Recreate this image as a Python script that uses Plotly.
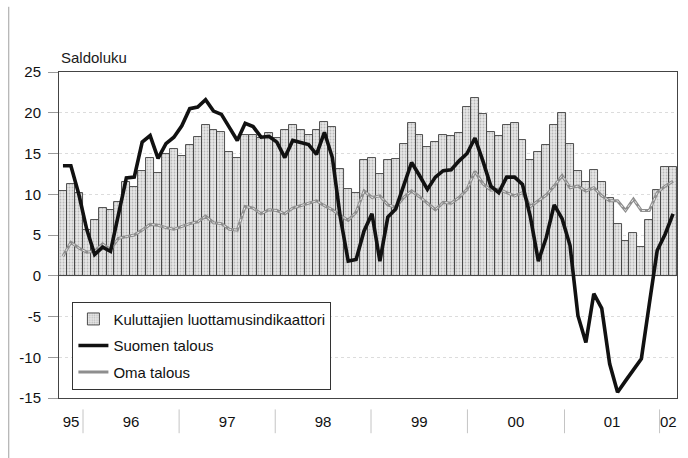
import plotly.graph_objects as go

# ---------------- data (monthly, Oct 1995 - Mar 2002) ----------------
months = [f"{y}-{m:02d}" for y in range(1995, 2003) for m in range(1, 13)]
months = months[months.index("1995-10"):months.index("2002-03") + 1]

cci = [10.4, 11.2, 10.2,
       5.6, 6.9, 8.3, 8.1, 9.0, 11.5, 10.9, 12.8, 14.5, 12.6, 15.0, 15.6,
       14.7, 16.0, 17.0, 18.5, 17.9, 17.7, 15.2, 14.4, 17.3, 17.3, 16.9, 17.5,
       16.9, 17.9, 18.5, 17.9, 17.3, 17.9, 18.9, 18.3, 13.1, 10.7, 10.2, 14.2,
       14.4, 12.5, 14.2, 14.3, 16.2, 18.8, 17.3, 15.8, 16.4, 17.3, 17.1, 17.5,
       20.7, 21.8, 19.9, 17.7, 17.1, 18.5, 18.8, 16.6, 14.2, 15.2, 16.0, 18.5,
       20.0, 16.2, 12.9, 11.5, 13.0, 11.5, 9.5, 6.4, 4.3, 5.2, 3.5, 6.8,
       10.5, 13.4, 13.3]

suomen_talous = [13.5, 13.5, 10.0,
                 5.7, 2.6, 3.5, 3.0, 7.5, 12.0, 12.1, 16.4, 17.2, 14.4, 16.2, 17.0,
                 18.4, 20.5, 20.7, 21.6, 20.2, 19.8, 18.2, 16.6, 18.7, 18.3, 17.0, 17.1,
                 16.4, 14.5, 16.6, 16.4, 16.1, 14.9, 17.6, 14.5, 7.2, 1.8, 2.0, 5.5,
                 7.6, 1.8, 7.2, 8.2, 11.0, 13.9, 12.3, 10.6, 12.1, 12.9, 13.0, 14.1,
                 15.0, 16.9, 14.1, 11.0, 10.2, 12.1, 12.1, 11.2, 7.2, 1.8, 4.7, 8.7,
                 7.0, 3.7, -4.9, -8.2, -2.2, -4.0, -10.8, -14.3, -12.9, -11.6, -10.2, -3.5,
                 3.1, 5.1, 7.6]

oma_talous = [2.4, 4.1, 3.4,
              2.9, 3.0, 3.9, 3.2, 4.6, 4.8, 5.0, 5.6, 6.3, 6.2, 5.9, 5.7,
              6.1, 6.4, 6.6, 7.3, 6.5, 6.4, 5.7, 5.6, 8.5, 8.3, 7.6, 8.1,
              8.0, 7.6, 8.3, 8.6, 8.9, 9.2, 8.6, 8.1, 7.4, 6.8, 7.8, 10.4,
              9.6, 9.8, 8.7, 8.4, 9.6, 10.4, 9.7, 8.9, 8.1, 9.0, 8.9, 9.6,
              10.6, 12.8, 11.3, 10.5, 10.6, 10.2, 9.8, 10.2, 8.5, 9.2, 9.9, 11.0,
              12.3, 10.8, 11.0, 10.4, 10.8, 9.8, 9.2, 9.2, 8.0, 9.4, 8.0, 8.0,
              10.2, 11.0, 11.6]

year_labels = ["95", "96", "97", "98", "99", "00", "01", "02"]
y_ticks = [-15, -10, -5, 0, 5, 10, 15, 20, 25]

names = ["Kuluttajien luottamusindikaattori", "Suomen talous", "Oma talous"]
title_text = "Saldoluku"

# ---------------- layout helpers ----------------
x = list(range(len(months)))
FONT = "Liberation Sans, Arial, sans-serif"

# year separator positions in axis units (label row drawn slightly wider than the bars)
sep_pos = [2.53, 14.66, 26.79, 38.88, 51.05, 63.30, 75.30]
edges = [-0.5] + sep_pos + [len(months) - 0.5]
label_pos = [(a + b) / 2 for a, b in zip(edges[:-1], edges[1:])]

fig = go.Figure()

fig.add_trace(go.Bar(
    x=x, y=cci, name=names[0], legendrank=1, legendgroup="g1",
    width=1.0,
    marker=dict(color="#e2e2e2",
                line=dict(color="#3c3c3c", width=0.9),
                pattern=dict(shape=".", fgcolor="#8c8c8c", bgcolor="#e6e6e6",
                             size=3, solidity=0.3)),
    customdata=months, hovertemplate="%{customdata}: %{y}<extra></extra>",
))

fig.add_trace(go.Scatter(
    x=x, y=oma_talous, name=names[2], legendrank=3, legendgroup="g3", mode="lines",
    line=dict(color="#8e8e8e", width=3.0),
    customdata=months, hovertemplate="%{customdata}: %{y}<extra></extra>",
))
fig.add_trace(go.Scatter(
    x=x, y=oma_talous, mode="lines", showlegend=False, hoverinfo="skip",
    legendgroup="g3",
    line=dict(color="#e8e8e8", width=1.0, dash="dot"),
))

fig.add_trace(go.Scatter(
    x=x, y=suomen_talous, name=names[1], legendrank=2, legendgroup="g2", mode="lines",
    line=dict(color="#111111", width=3.6),
    customdata=months, hovertemplate="%{customdata}: %{y}<extra></extra>",
))

shapes = []
for s in sep_pos:
    shapes.append(dict(type="line", xref="x", yref="paper", x0=s, x1=s,
                       y0=-0.035, y1=-0.108, line=dict(color="#c4c4c4", width=1)))
# outer frame line at left
shapes.append(dict(type="line", xref="paper", yref="paper", x0=-0.0813, x1=-0.0813,
                   y0=-0.19, y1=1.2, line=dict(color="#a0a0a0", width=1)))

fig.update_layout(
    width=688, height=458,
    margin=dict(l=59, r=11, t=72, b=60, autoexpand=False),
    paper_bgcolor="white", plot_bgcolor="white",
    bargap=0,
    font=dict(family=FONT, size=14, color="#1a1a1a"),
    shapes=shapes,
    showlegend=True,
    legend=dict(x=0.0217, y=0.2954, xanchor="left", yanchor="top",
                bgcolor="white", bordercolor="#333333", borderwidth=1,
                font=dict(family=FONT, size=15, color="#111"),
                tracegroupgap=4, itemwidth=30, traceorder="grouped"),
    annotations=[dict(text=title_text, xref="paper", yref="paper", x=0.0, y=1.046,
                      xanchor="left", yanchor="middle", showarrow=False,
                      font=dict(family=FONT, size=15, color="#1a1a1a"))],
)

fig.update_xaxes(
    range=[-0.5, len(months) - 0.5],
    tickmode="array", tickvals=label_pos, ticktext=year_labels,
    ticks="outside", ticklen=10, tickcolor="rgba(0,0,0,0)",
    tickfont=dict(family=FONT, size=15, color="#111"),
    showgrid=False, zeroline=False,
    showline=True, linecolor="#444444", linewidth=1, mirror=True,
)
fig.update_yaxes(
    range=[-15, 25],
    tickmode="array", tickvals=y_ticks, ticktext=[str(v) for v in y_ticks],
    ticks="outside", ticklen=10, tickcolor="#9a9a9a",
    ticklabelstandoff=4,
    tickfont=dict(family=FONT, size=15, color="#111"),
    showgrid=True, gridcolor="#dcdcdc", griddash="dot", gridwidth=1,
    zeroline=True, zerolinecolor="#333333", zerolinewidth=1.2,
    showline=True, linecolor="#444444", linewidth=1, mirror=True,
)

fig.write_html("out.html", config={"displayModeBar": False})

# remove the default page margin so the figure sits at the window origin
with open("out.html", encoding="utf-8") as f:
    html = f.read()
html = html.replace("<head>", "<head><style>html,body{margin:0;padding:0;overflow:hidden;}</style>", 1)
with open("out.html", "w", encoding="utf-8") as f:
    f.write(html)
